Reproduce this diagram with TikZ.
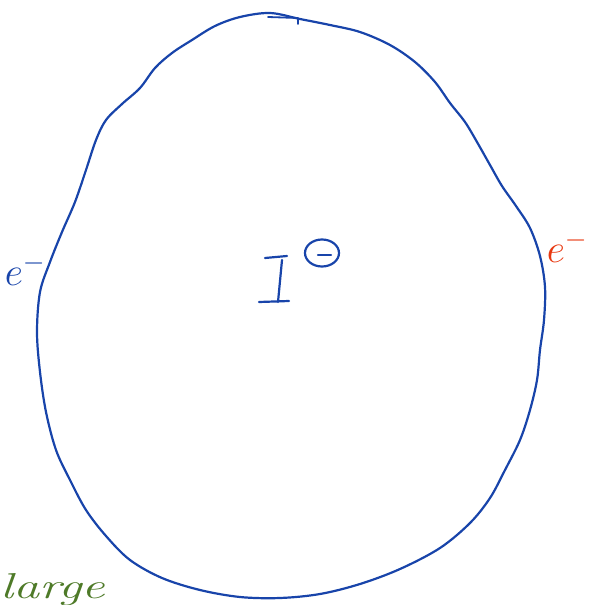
\RequirePackage{fix-cm}
\documentclass[tikz,border=0pt]{standalone}
\usepackage{graphicx}
\usetikzlibrary{shapes.geometric}
\begin{document}
\begin{tikzpicture}[x=1pt,y=-1pt,
  inkblue/.style={draw=penblue,line width=2.2pt,line cap=round,line join=round},
  lbl/.style={inner sep=0pt,font=\fontsize{40}{40}\selectfont}]
\definecolor{penblue}{RGB}{24,68,170}
\definecolor{penred}{RGB}{232,56,16}
\definecolor{pengreen}{RGB}{78,122,40}
\useasboundingbox (0,0) rectangle (592,605);
\draw[inkblue] plot[smooth cycle,tension=0.55] coordinates {
 (270,13) (300,19) (330,25) (360,32) (390,45) (415,62) (435,82) (450,103)
 (465,122) (477,142) (490,165) (502,186) (516,206) (530,228) (540,256)
 (545,287) (544,320) (540,350) (537,380) (530,410) (520,440) (505,470)
 (490,498) (470,523) (440,548) (400,569) (360,584) (320,594) (280,598)
 (240,597) (200,590) (162,578) (130,560) (106,536) (86,510) (70,480)
 (56,450) (46,412) (40,372) (37,332) (40,292) (50,262) (62,232) (75,202)
 (86,170) (96,140) (106,120) (122,104) (140,88) (155,68) (172,53)
 (192,40) (215,26) (240,17)};
% small hook at the top
\coordinate (t1) at (268,17);
\coordinate (t2) at (298,18);
\coordinate (t3) at (298,24);
\draw[inkblue,line width=1.8pt] (t1) -- (t2) -- (t3);
% labels
\node[lbl,text=penblue,anchor=base] (eL) at (25,285) {$e^{-}$};
\node[lbl,text=penred,anchor=base] (eR) at (567,262) {$e^{-}$};
% the hand-drawn I
\coordinate (Ia) at (265,258);
\coordinate (Ib) at (287,256);
\coordinate (Ic) at (282,260);
\coordinate (Id) at (278,302);
\coordinate (Ie) at (259,302);
\coordinate (If) at (289,301);
\draw[inkblue] (Ia) -- (Ib);
\draw[inkblue] (Ic) -- (Id);
\draw[inkblue] (Ie) -- (If);
% charge circle with minus
\node[draw=penblue,line width=2.2pt,ellipse,minimum width=34pt,minimum height=27pt,inner sep=0pt] (ch) at (322,253) {};
\coordinate (m1) at (318,255);
\coordinate (m2) at (331,255);
\draw[inkblue] (m1) -- (m2);
% green word
\node[inner sep=0pt,text=pengreen,anchor=base west,font=\fontsize{36}{36}\selectfont\itshape] (lg) at (0,598) {\scalebox{1.45}[1]{large}};
\end{tikzpicture}
\end{document}
